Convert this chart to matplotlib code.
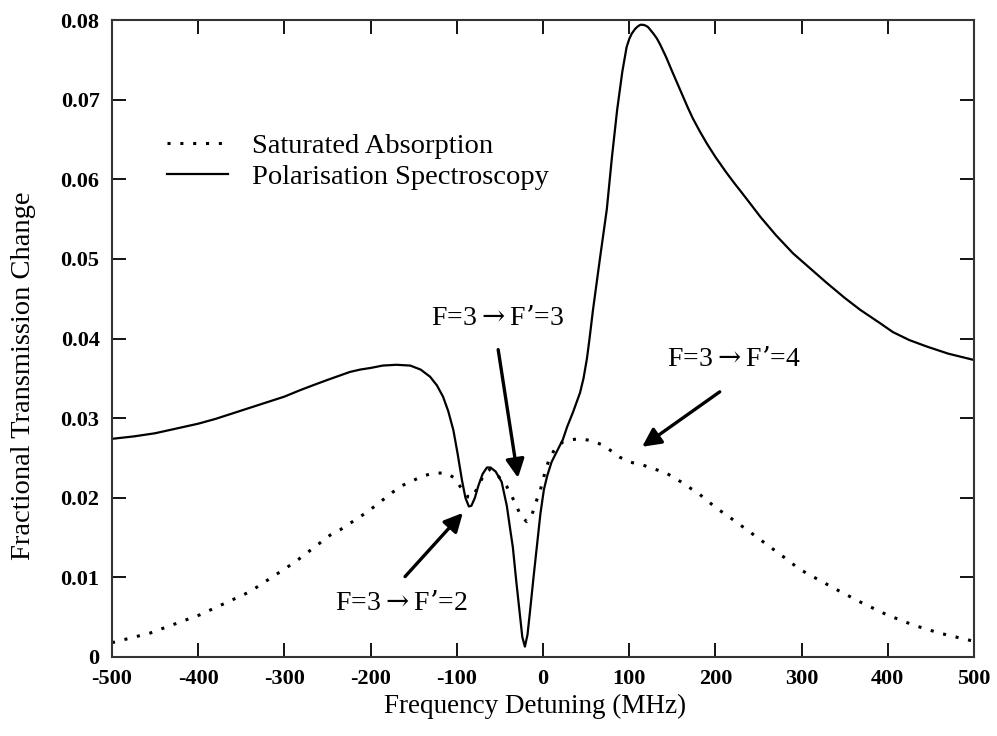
import matplotlib
matplotlib.use("Agg")
import matplotlib.pyplot as plt

plt.rcParams['font.family'] = ['Liberation Serif', 'DejaVu Serif']
plt.rcParams['axes.unicode_minus'] = False
plt.rcParams['mathtext.fontset'] = 'dejavuserif'

# Polarisation spectroscopy (solid)
pol_x = [-500, -475, -450, -425, -400, -380, -360, -340, -320, -300, -282, -265,
         -250, -237, -224, -212, -200, -186, -170, -154, -142, -131, -123, -116,
         -110, -104, -99, -94, -90, -86, -83, -79, -75, -70, -65, -61, -55, -48,
         -42, -38, -35, -31, -27, -24, -21, -18, -15, -11, -7, -3, 1, 5, 10, 16,
         23, 28, 35, 43, 47, 51, 54, 58, 66, 74, 80, 86, 92, 97, 100, 103, 107,
         110, 113, 116, 119, 122, 128, 132, 136, 143, 150, 156, 162, 168, 174,
         182, 190, 200, 213, 222, 230, 240, 252, 270, 290, 310, 329, 350, 368,
         390, 406, 425, 445, 470, 500]
pol_y = [0.0274, 0.0277, 0.0281, 0.0287, 0.0293, 0.0299, 0.0306, 0.0313, 0.0320,
         0.0327, 0.0335, 0.0342, 0.0348, 0.0353, 0.0358, 0.0361, 0.0363, 0.0366,
         0.0367, 0.0366, 0.0361, 0.0352, 0.0341, 0.0327, 0.0309, 0.0285, 0.0255,
         0.0222, 0.0200, 0.0189, 0.0190, 0.0200, 0.0215, 0.0230, 0.0238, 0.0238,
         0.0233, 0.0220, 0.0190, 0.0160, 0.0138, 0.0095, 0.0055, 0.0025, 0.0013,
         0.0028, 0.0058, 0.0100, 0.0140, 0.0180, 0.0210, 0.0228, 0.0245, 0.0258,
         0.0273, 0.0289, 0.0308, 0.0332, 0.0350, 0.0375, 0.0400, 0.0436, 0.0500,
         0.0562, 0.0628, 0.0687, 0.0735, 0.0766, 0.0776, 0.0783, 0.0789, 0.0792,
         0.0794, 0.0794, 0.0793, 0.0791, 0.0783, 0.0777, 0.0769, 0.0753, 0.0735,
         0.0720, 0.0705, 0.0690, 0.0676, 0.0660, 0.0645, 0.0628, 0.0608, 0.0595,
         0.0584, 0.0570, 0.0553, 0.0530, 0.0507, 0.0488, 0.0470, 0.0451, 0.0436,
         0.0420, 0.0408, 0.0398, 0.0390, 0.0381, 0.0373]

# Saturated absorption (dotted)
sat_x = [-500, -456, -398, -340, -288, -247, -235, -204, -166, -140, -127, -112,
         -103, -96, -87, -82, -75, -68, -61, -54, -42, -33, -26, -19, -13, -8,
         -3, 3, 8, 15, 23, 33, 43, 55, 70, 89, 100, 116, 143, 160, 182, 200, 221,
         240, 260, 280, 298, 313, 340, 370, 399, 430, 460, 495, 500]
sat_y = [0.0018, 0.0030, 0.0053, 0.0082, 0.0119, 0.0153, 0.0160, 0.0182, 0.0214,
         0.0227, 0.0231, 0.0231, 0.0225, 0.0214, 0.0201, 0.0200, 0.0215, 0.0230,
         0.0236, 0.0230, 0.0214, 0.0195, 0.0178, 0.0170, 0.0178, 0.0195, 0.0210,
         0.0235, 0.0251, 0.0263, 0.0270, 0.0273, 0.0274, 0.0272, 0.0266, 0.0251,
         0.0245, 0.0241, 0.0231, 0.0220, 0.0204, 0.0188, 0.0172, 0.0157, 0.0141,
         0.0125, 0.0110, 0.0101, 0.0085, 0.0068, 0.0053, 0.0040, 0.0030, 0.0021,
         0.0020]

x_ticks = [-500, -400, -300, -200, -100, 0, 100, 200, 300, 400, 500]
y_ticks = [0, 0.01, 0.02, 0.03, 0.04, 0.05, 0.06, 0.07, 0.08]
y_tick_labels = ['0', '0.01', '0.02', '0.03', '0.04', '0.05', '0.06', '0.07', '0.08']

labels = ['F=3$\\rightarrow$F\u2019=2', 'F=3$\\rightarrow$F\u2019=3',
          'F=3$\\rightarrow$F\u2019=4']
label_pos = [(-164, 0.0067), (-53, 0.0425), (222, 0.0373)]
arrow_tail = [(-160, 0.0101), (-52, 0.0386), (205, 0.0333)]
arrow_head = [(-93, 0.0181), (-29, 0.0225), (115, 0.0264)]

fig = plt.figure(figsize=(9.97, 7.36), dpi=100)
ax = fig.add_axes([112 / 997, 1 - 657 / 736, (974 - 112) / 997, (657 - 20) / 736])

ax.plot(sat_x, sat_y, color='black', lw=2.2, linestyle=(0, (1, 3.2)),
        label='Saturated Absorption')
ax.plot(pol_x, pol_y, color='black', lw=1.6, label='Polarisation Spectroscopy')

ax.set_xlim(-500, 500)
ax.set_ylim(0, 0.08)
ax.set_xticks(x_ticks)
ax.set_xticklabels([str(v) for v in x_ticks])
ax.set_yticks(y_ticks)
ax.set_yticklabels(y_tick_labels)
ax.tick_params(direction='in', length=10, width=1.3, top=True, right=True,
               labelsize=16, pad=9)
for lab in ax.get_xticklabels() + ax.get_yticklabels():
    lab.set_fontweight('bold')
for s in ax.spines.values():
    s.set_linewidth(1.5)
    s.set_color('#333333')

ax.set_xlabel('Frequency Detuning (MHz)', fontsize=19.5)
ax.set_ylabel('Fractional Transmission Change', fontsize=20.5)
ax.xaxis.set_label_coords(0.491, -0.058)
ax.yaxis.set_label_coords(-0.088, 0.441)

for txt, pos, tail, head in zip(labels, label_pos, arrow_tail, arrow_head):
    ax.text(pos[0], pos[1], txt, fontsize=20, ha='center', va='center')
    ax.annotate('', xy=head, xytext=tail,
                arrowprops=dict(arrowstyle='-|>', lw=2.4, color='black',
                                mutation_scale=28, shrinkA=0, shrinkB=0))

leg = ax.legend(loc='upper left', bbox_to_anchor=(167 / 997, 1 - 133 / 736),
                bbox_transform=fig.transFigure, frameon=False, fontsize=20.5,
                handlelength=2.15, handletextpad=0.85, labelspacing=0.18,
                borderpad=0, borderaxespad=0)

fig.savefig('out.png', dpi=100)
